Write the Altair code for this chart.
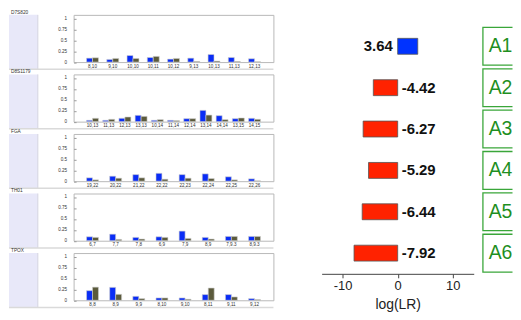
import altair as alt
import pandas as pd

# ---------------- data ----------------
panel_names = ["D7S820", "D8S1179", "FGA", "TH01", "TPOX"]

d7s820_genotypes = ["8,10", "9,10", "10,10", "10,11", "10,12", "9,13", "10,13", "11,13", "12,13"]
d7s820_blue = [0.09, 0.06, 0.15, 0.105, 0.068, 0.09, 0.174, 0.105, 0.076]
d7s820_olive = [0.098, 0.083, 0.083, 0.13, 0.083, 0.015, 0.023, 0.015, 0.008]

d8s1179_genotypes = ["10,13", "11,13", "12,13", "13,13", "10,14", "11,14", "12,14", "13,14", "14,14", "13,15", "14,15"]
d8s1179_blue = [0.03, 0.03, 0.076, 0.144, 0.03, 0.03, 0.068, 0.258, 0.136, 0.068, 0.076]
d8s1179_olive = [0.076, 0.053, 0.106, 0.12, 0.045, 0.023, 0.068, 0.15, 0.045, 0.083, 0.053]

fga_genotypes = ["19,22", "20,22", "21,22", "22,22", "22,23", "22,24", "22,25", "22,26"]
fga_blue = [0.076, 0.114, 0.15, 0.18, 0.15, 0.167, 0.1, 0.053]
fga_olive = [0.03, 0.068, 0.076, 0.045, 0.068, 0.06, 0.03, 0.008]

th01_genotypes = ["6,7", "7,7", "7,8", "6,9", "7,9", "8,9", "7,9.3", "8,9.3"]
th01_blue = [0.09, 0.15, 0.076, 0.09, 0.22, 0.076, 0.098, 0.098]
th01_olive = [0.076, 0.03, 0.038, 0.076, 0.053, 0.038, 0.098, 0.098]

tpox_genotypes = ["8,8", "8,9", "9,9", "8,10", "9,10", "8,11", "9,11", "9,12"]
tpox_blue = [0.22, 0.295, 0.09, 0.053, 0.053, 0.13, 0.13, 0.038]
tpox_olive = [0.30, 0.136, 0.038, 0.053, 0.023, 0.28, 0.076, 0.015]

profile_names = ["A1", "A2", "A3", "A4", "A5", "A6"]
log_lr = [3.64, -4.42, -6.27, -5.29, -6.44, -7.92]

# ---------------- style ----------------
FONT = "Liberation Sans"
BLUE = "#0a2df5"
OLIVE = "#5b5a3c"
LAV = "#e8e8f9"
RED = "#ff2200"
BLUE2 = "#0033ff"
GREEN = "#3aa63a"
GREEN_TXT = "#1f8f1f"

W_PANEL = 201
H_PANEL = 47.5
LAV_W = 29
LAV_H = 54.7
MARGIN = 19
BAND = 12


def panel(name, genos, blue, olive):
    n = len(genos)
    step = (W_PANEL - 2 * MARGIN) / (n - 1)
    pi = 1 - BAND / step
    po = (MARGIN - BAND / 2) / step
    df = pd.DataFrame({
        "geno": genos * 2,
        "series": ["a"] * n + ["b"] * n,
        "value": blue + olive,
    })
    bars = alt.Chart(df).mark_bar(stroke="#cfcfcf", strokeWidth=0.6).encode(
        x=alt.X("geno:N", sort=genos,
                scale=alt.Scale(paddingInner=pi, paddingOuter=po),
                axis=alt.Axis(title=None, labelAngle=0, labelFontSize=4.6, labelPadding=1,
                              ticks=False, domain=False, labelColor="#333")),
        xOffset=alt.XOffset("series:N", scale=alt.Scale(domain=["a", "b"], paddingInner=0, paddingOuter=0)),
        y=alt.Y("value:Q", scale=alt.Scale(domain=[0, 1.08], nice=False),
                axis=alt.Axis(title=None, values=[0, 0.25, 0.5, 0.75, 1], grid=False, domain=False,
                              offset=-2.5, tickSize=2.5, tickColor="#999", labelFontSize=4.6,
                              labelPadding=7, labelColor="#333", labelExpr="'' + datum.value")),
        color=alt.Color("series:N", scale=alt.Scale(domain=["a", "b"], range=[BLUE, OLIVE]), legend=None),
    ).properties(width=W_PANEL, height=H_PANEL,
                 view=alt.ViewBackground(stroke="#b8b8b8", strokeWidth=1))

    base = alt.Chart(pd.DataFrame({"name": [name]}))
    lav = base.mark_rect(color=LAV).encode(
        x=alt.value(0), x2=alt.value(LAV_W), y=alt.value(0), y2=alt.value(LAV_H))
    edge = base.mark_rule(color="#d4d4e0", strokeWidth=1).encode(
        x=alt.value(LAV_W), y=alt.value(0), y2=alt.value(LAV_H))
    sep = base.mark_rule(color="#dadada", strokeWidth=1.5).encode(
        x=alt.value(0), x2=alt.value(266), y=alt.value(LAV_H))
    label = base.mark_text(align="left", baseline="alphabetic", fontSize=4.8, color="#333").encode(
        x=alt.value(2), y=alt.value(-1.2), text="name:N")
    lavchart = alt.layer(lav, edge, sep, label).properties(
        width=LAV_W, height=LAV_H, view=alt.ViewBackground(strokeWidth=0))
    return alt.hconcat(lavchart, bars, spacing=36, bounds="flush")


rows = [
    panel(panel_names[0], d7s820_genotypes, d7s820_blue, d7s820_olive),
    panel(panel_names[1], d8s1179_genotypes, d8s1179_blue, d8s1179_olive),
    panel(panel_names[2], fga_genotypes, fga_blue, fga_olive),
    panel(panel_names[3], th01_genotypes, th01_blue, th01_olive),
    panel(panel_names[4], tpox_genotypes, tpox_blue, tpox_olive),
]
left = alt.vconcat(*rows, spacing=-2.1)

# ---------------- middle: log(LR) bars ----------------
mid_df = pd.DataFrame({
    "profile": profile_names,
    "lr": log_lr,
    "label": [f"{v:.2f}" for v in log_lr],
})
MID_H = 260.5


def yband():
    return alt.Y("profile:N", sort=profile_names,
                 scale=alt.Scale(domain=profile_names, paddingInner=0, paddingOuter=0.13, align=1),
                 axis=None)


lr_bars = alt.Chart(mid_df).mark_bar(size=16, stroke="#555", strokeWidth=0.8).encode(
    y=yband(),
    x=alt.X("lr:Q", scale=alt.Scale(domain=[-13.8, 13.8], nice=False),
            axis=alt.Axis(values=[-10, 0, 10], title="log(LR)", grid=False,
                          domainColor="#444", tickColor="#444", tickSize=4,
                          labelFontSize=13, labelColor="#222", labelPadding=2,
                          labelExpr="'' + datum.value",
                          titleFontSize=14, titleFontWeight="normal", titleColor="#222",
                          titlePadding=5)),
    color=alt.condition("datum.lr > 0", alt.value(BLUE2), alt.value(RED)),
)
pos_txt = alt.Chart(mid_df).transform_filter("datum.lr > 0").mark_text(
    align="right", baseline="middle", dx=-5, fontSize=15, fontWeight="bold", color="#111").encode(
    y=yband(), x=alt.XDatum(0, type="quantitative", title="log(LR)"), text="label:N")
neg_txt = alt.Chart(mid_df).transform_filter("datum.lr <= 0").mark_text(
    align="left", baseline="middle", dx=4, fontSize=15, fontWeight="bold", color="#111").encode(
    y=yband(), x=alt.XDatum(0, type="quantitative", title="log(LR)"), text="label:N")
mid = alt.layer(lr_bars, pos_txt, neg_txt).properties(
    width=153, height=MID_H, view=alt.ViewBackground(strokeWidth=0))

# ---------------- right: profile boxes ----------------
right_df = pd.DataFrame({"profile": profile_names})
boxes = alt.Chart(right_df).transform_calculate(b0="0.04", b1="2").mark_bar(
    size=38, fill="white", stroke=GREEN, strokeWidth=1.3, clip=True).encode(
    y=yband(),
    x=alt.X("b0:Q", scale=alt.Scale(domain=[0, 1], nice=False, zero=False), axis=None),
    x2="b1:Q",
)
box_txt = alt.Chart(right_df).mark_text(align="left", baseline="middle", fontSize=19.5, color=GREEN_TXT).encode(
    y=yband(), x=alt.value(7), text="profile:N")
right = alt.layer(boxes, box_txt).properties(
    width=31, height=MID_H, view=alt.ViewBackground(strokeWidth=0))

chart = alt.hconcat(
    left,
    alt.hconcat(mid, right, spacing=8),
    spacing=47.5,
).properties(padding=0).configure(font=FONT).configure_view(strokeWidth=0)

chart.save("out.html", embed_options={"renderer": "svg", "actions": False})
